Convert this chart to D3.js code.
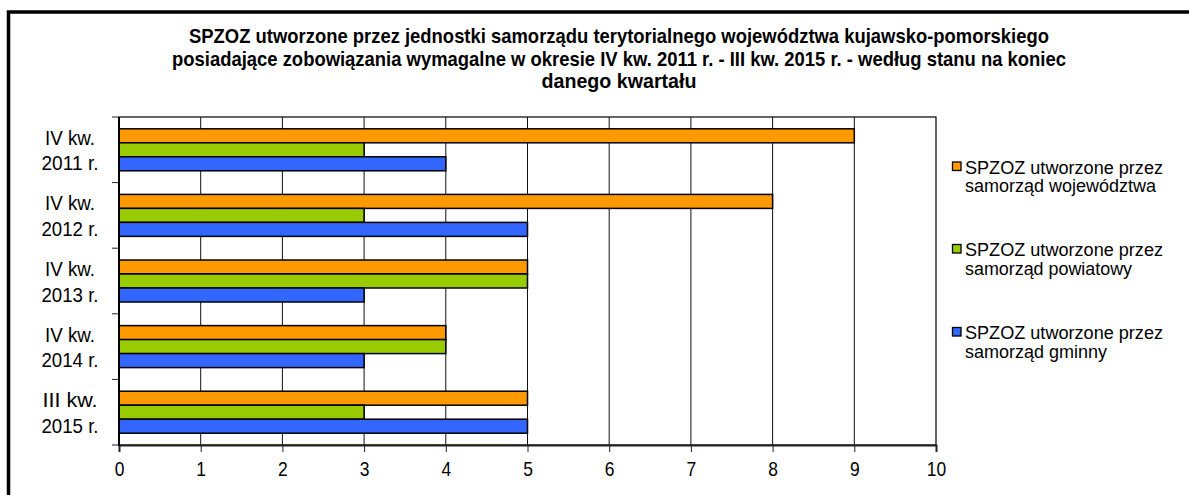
<!DOCTYPE html>
<html>
<head>
<meta charset="utf-8">
<script src="https://cdn.jsdelivr.net/npm/d3@7"></script>
<style>
  body { margin: 0; background: #fff; }
  text { font-family: Arial, "Liberation Sans", sans-serif; fill: #000; }
</style>
</head>
<body>
<div class="chart"></div>
<script>
// data
const categories = [['IV kw.', '2011 r.'], ['IV kw.', '2012 r.'], ['IV kw.', '2013 r.'], ['IV kw.', '2014 r.'], ['III kw.', '2015 r.']];
const seriesNames = [['SPZOZ utworzone przez', 'samorząd województwa'], ['SPZOZ utworzone przez', 'samorząd powiatowy'], ['SPZOZ utworzone przez', 'samorząd gminny']];
const wojewodztwo = [9, 8, 5, 4, 5];
const powiat = [3, 3, 5, 4, 3];
const gmina = [4, 5, 3, 3, 5];
const xTicks = [0, 1, 2, 3, 4, 5, 6, 7, 8, 9, 10];
const titleLines = [
  'SPZOZ utworzone przez jednostki samorządu terytorialnego województwa kujawsko-pomorskiego',
  'posiadające zobowiązania wymagalne w okresie IV kw. 2011 r. - III kw. 2015 r. - według stanu na koniec',
  'danego kwartału'
];
const colors = ['#FF9900', '#99CC00', '#3366FF'];

const W = 1189, H = 495;
const values = [wojewodztwo, powiat, gmina];
const catIdx = categories.map((c, i) => i);

const svg = d3.select('.chart').append('svg')
  .attr('width', W).attr('height', H);

svg.append('rect').attr('width', W).attr('height', H).attr('fill', '#fff');

// outer frame (runs off right/bottom edge)
svg.append('rect')
  .attr('x', 8.5).attr('y', 12)
  .attr('width', 1200).attr('height', 600)
  .attr('fill', 'none').attr('stroke', '#000').attr('stroke-width', 3.5);

// title - narrow, tall font
const titleWidths = [860, 894, 155];
svg.selectAll('.title').data(titleLines).join('text')
  .attr('class', 'title')
  .attr('x', 619).attr('y', (d, i) => 43 + i * 22.7)
  .attr('text-anchor', 'middle')
  .style('font-size', '20.5px').style('font-weight', 'bold')
  .attr('textLength', (d, i) => titleWidths[i])
  .attr('lengthAdjust', 'spacingAndGlyphs')
  .text(d => d);

const x = d3.scaleLinear().domain([0, 10]).range([119, 936]);
const y = d3.scaleBand().domain(catIdx).range([117, 445]).paddingInner(0.36).paddingOuter(0.18);
const ySub = d3.scaleBand().domain([0, 1, 2]).range([0, y.bandwidth()]);

const plot = svg.append('g');

// plot area box
plot.append('rect')
  .attr('x', x(0)).attr('y', 117)
  .attr('width', x(10) - x(0)).attr('height', 445 - 117)
  .attr('fill', '#fff').attr('stroke', '#000').attr('stroke-width', 1.2);

// vertical gridlines
plot.selectAll('.grid').data(xTicks.slice(1, -1)).join('line')
  .attr('x1', d => x(d)).attr('x2', d => x(d))
  .attr('y1', 117).attr('y2', 445)
  .attr('stroke', '#111').attr('stroke-width', 1);

// bars
values.forEach((vals, s) => {
  plot.selectAll('.bar' + s).data(vals).join('rect')
    .attr('x', x(0))
    .attr('y', (d, i) => y(i) + ySub(s))
    .attr('width', d => x(d) - x(0))
    .attr('height', ySub.bandwidth())
    .attr('fill', colors[s])
    .attr('stroke', '#000').attr('stroke-width', 1.5);
});

// x axis
const xAxis = plot.append('g')
  .attr('transform', 'translate(0,445)')
  .call(d3.axisBottom(x).tickValues(xTicks).tickSize(7).tickPadding(9).tickFormat(d3.format('d')));
xAxis.select('.domain').attr('stroke', '#222').attr('stroke-width', 2);
xAxis.selectAll('.tick line').attr('stroke', '#222');
xAxis.selectAll('.tick text')
  .style('font-size', '21px').style('font-family', 'Arial, "Liberation Sans", sans-serif')
  .attr('textLength', d => String(d).length * 9.7)
  .attr('lengthAdjust', 'spacingAndGlyphs');

// y axis: ticks at band boundaries
const bounds = d3.range(categories.length + 1).map(i => 117 + i * y.step());
plot.selectAll('.ytick').data(bounds).join('line')
  .attr('x1', 112).attr('x2', x(0))
  .attr('y1', d => d).attr('y2', d => d)
  .attr('stroke', '#222').attr('stroke-width', 1);
plot.append('line')
  .attr('x1', x(0)).attr('x2', x(0)).attr('y1', 117).attr('y2', 446)
  .attr('stroke', '#000').attr('stroke-width', 2);

const ylab = plot.selectAll('.ylab').data(categories).join('text')
  .attr('text-anchor', 'middle')
  .style('font-size', '21px');
ylab.append('tspan').attr('x', 70).attr('y', (d, i) => y(i) + y.bandwidth() / 2 - 5)
  .attr('textLength', d => d[0].length === 6 ? 50 : 55).attr('lengthAdjust', 'spacingAndGlyphs')
  .text(d => d[0]);
ylab.append('tspan').attr('x', 70).attr('y', (d, i) => y(i) + y.bandwidth() / 2 + 20.5)
  .attr('textLength', 57).attr('lengthAdjust', 'spacingAndGlyphs')
  .text(d => d[1]);

// legend
const legendTop = [173.5, 256, 339];
const lineW = [[198, 191], [198, 167], [198, 142]];
const leg = svg.selectAll('.leg').data(seriesNames).join('g');
leg.append('rect')
  .attr('x', 952.5).attr('y', (d, i) => legendTop[i] - 11.5)
  .attr('width', 8.5).attr('height', 8.5)
  .attr('fill', (d, i) => colors[i]).attr('stroke', '#000').attr('stroke-width', 1.3);
leg.each(function (d, i) {
  d3.select(this).selectAll('text').data(d).join('text')
    .attr('x', 965).attr('y', (t, j) => legendTop[i] + j * 18.5)
    .style('font-size', '17.5px')
    .attr('textLength', (t, j) => lineW[i][j])
    .attr('lengthAdjust', 'spacingAndGlyphs')
    .text(t => t);
});
</script>
</body>
</html>
